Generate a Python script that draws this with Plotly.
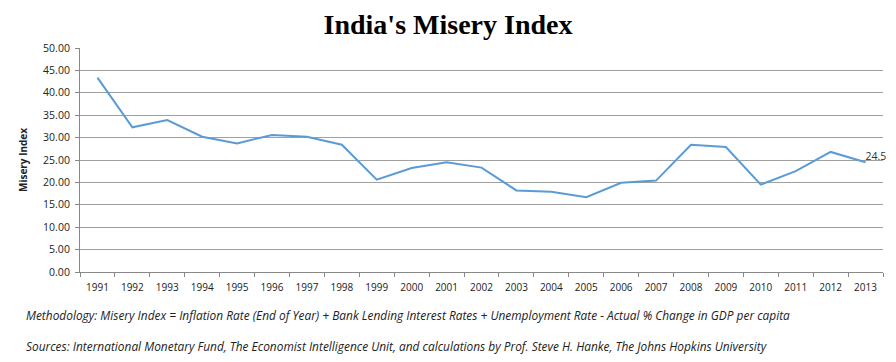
import plotly.graph_objects as go

years = [str(y) for y in range(1991, 2014)]
misery = [43.4, 32.3, 33.9, 30.2, 28.7, 30.6, 30.2, 28.4, 20.6, 23.2, 24.5,
          23.3, 18.2, 17.9, 16.7, 19.9, 20.4, 28.4, 27.9, 19.5, 22.5, 26.8, 24.5]
y_ticks = [0, 5, 10, 15, 20, 25, 30, 35, 40, 45, 50]
title_text = "India's Misery Index"
y_title = "Misery Index"
note1 = "Methodology: Misery Index = Inflation Rate (End of Year) + Bank Lending Interest Rates + Unemployment Rate - Actual % Change in GDP per capita"
note2 = "Sources: International Monetary Fund, The Economist Intelligence Unit, and calculations by Prof. Steve H. Hanke, The Johns Hopkins University"

labels = [""] * (len(misery) - 1) + [f"{misery[-1]}"]

fig = go.Figure()
fig.add_trace(go.Scatter(
    x=years, y=misery, mode="lines+text",
    line=dict(color="#5B9BD5", width=2),
    text=labels, textposition="top right",
    textfont=dict(family="Open Sans", size=10.5, color="#333"),
    showlegend=False, hoverinfo="x+y", cliponaxis=False,
))

fig.update_layout(
    width=880, height=346,
    margin=dict(l=72, r=5, t=40, b=82),
    paper_bgcolor="white", plot_bgcolor="white",
    title=dict(text=f"<b>{title_text}</b>", x=0.5, xanchor="center", y=0.954, yanchor="middle",
               font=dict(family="Liberation Serif", size=28, color="black")),
    xaxis=dict(type="category", tickson="boundaries", ticks="outside", ticklen=4,
               tickcolor="#888", showline=True, linecolor="#888", linewidth=1,
               showgrid=False, ticklabelstandoff=6,
               tickfont=dict(family="Open Sans", size=10, color="#222"),
               range=[-0.5, len(years) - 0.5]),
    yaxis=dict(range=[0, 50], tickvals=y_ticks, tickformat=".2f",
               ticks="outside", ticklen=4, tickcolor="#888",
               showline=True, linecolor="#888", linewidth=1,
               showgrid=True, gridcolor="#a0a0a0", gridwidth=1.3,
               zeroline=False, ticklabelstandoff=3,
               tickfont=dict(family="Open Sans", size=10.5, color="#222"),
               title=dict(text=f"<b>{y_title}</b>", standoff=13,
                          font=dict(family="Open Sans", size=10, color="#222"))),
)

fig.add_annotation(xref="paper", yref="paper", x=-0.0697, y=-0.192, xanchor="left",
                   yanchor="middle", text=f"<i>{note1}</i>", showarrow=False,
                   font=dict(family="Open Sans", size=11.9, color="#222"))
fig.add_annotation(xref="paper", yref="paper", x=-0.0697, y=-0.330, xanchor="left",
                   yanchor="middle", text=f"<i>{note2}</i>", showarrow=False,
                   font=dict(family="Open Sans", size=11.9, color="#222"))

fig.write_html("out.html")
